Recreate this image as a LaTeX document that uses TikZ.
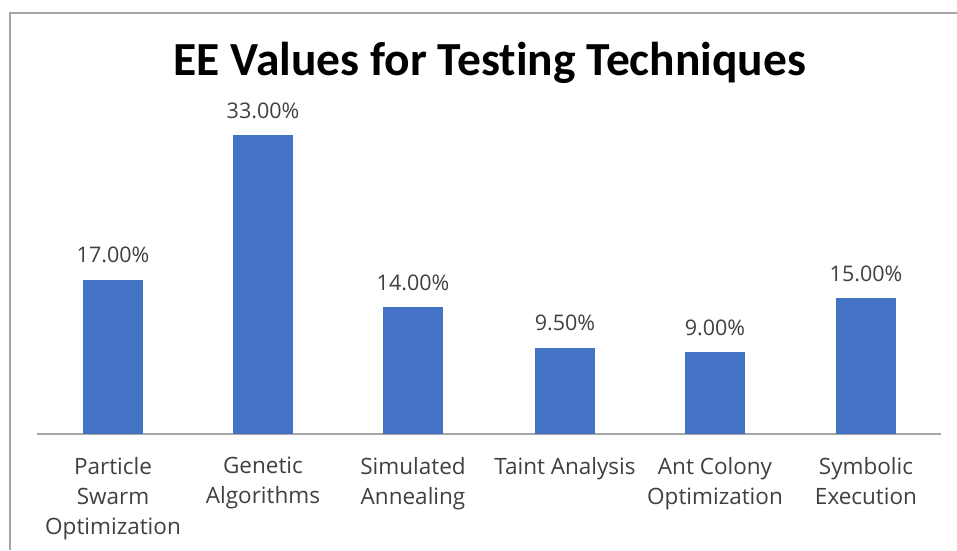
\documentclass[tikz,border=0pt]{standalone}
\usepackage{fontspec}
\setmainfont{Open Sans}
\newfontfamily\titlefont[Ligatures=NoCommon]{Carlito}
\definecolor{barblue}{HTML}{4472C4}
\definecolor{framegray}{HTML}{A6A6A6}
\definecolor{axisgray}{HTML}{A6A6A6}
\definecolor{labelgray}{HTML}{404040}
\tikzset{
  bar/.style={fill=barblue, draw=none},
  vallabel/.style={anchor=base, inner sep=0pt, text=labelgray, font=\fontsize{21.5}{24}\selectfont},
  catlabel/.style={anchor=north, inner sep=0pt, align=center, text=labelgray, font=\fontsize{22.5}{30}\selectfont},
}
\begin{document}
\begin{tikzpicture}[x=1pt, y=-1pt]
  \useasboundingbox (0,0) rectangle (957,550);
  % chart frame (left and top edges)
  \draw[framegray, line width=2pt] (10,550) -- (10,13) -- (957,13);
  % title
  \node[anchor=base, inner sep=0pt, font=\titlefont\bfseries\fontsize{47.5}{50}\selectfont] (title) at (490,75) {EE Values for Testing Techniques};
  % axis
  \coordinate (axL) at (37,434);
  \coordinate (axR) at (941,434);
  \draw[axisgray, line width=1.5pt] (axL) -- (axR);
  % bars: centre x, value (percent); 9.06 px per percent
  \foreach \n/\cx/\v/\lab/\cat in {
      1/113/17/17.00\%/{Particle\\Swarm\\Optimization},
      2/263/33/33.00\%/{Genetic\\Algorithms},
      3/413/14/14.00\%/{Simulated\\Annealing},
      4/565/9.5/9.50\%/{Taint Analysis},
      5/715/9/9.00\%/{Ant Colony\\Optimization},
      6/866/15/15.00\%/{Symbolic\\Execution}} {
    \pgfmathsetmacro{\top}{434-9.06*\v}
    \fill[bar] (\cx-30,434) rectangle (\cx+30,\top);
    \node[vallabel] (val\n) at (\cx,\top-17) {\lab};
    \node[catlabel] (cat\n) at (\cx,457) {\cat};
  }
\end{tikzpicture}
\end{document}
